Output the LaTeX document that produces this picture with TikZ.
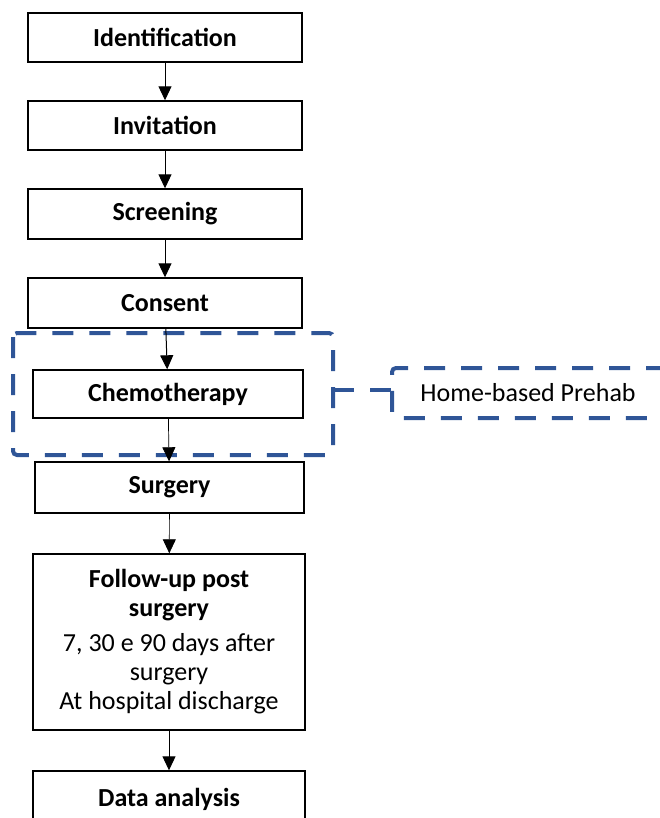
\documentclass[tikz,border=0pt]{standalone}
\usepackage{fontspec}
\setmainfont{Carlito}
\usetikzlibrary{arrows.meta,positioning}
\definecolor{dashblue}{HTML}{2F5597}
\tikzset{
  stepbox/.style={draw=black, line width=1.4pt, rectangle, inner sep=0pt, align=center,
    font=\fontsize{26}{29}\selectfont},
  flow/.style={line width=1pt, -{Triangle[length=14pt,width=13pt]}},
  grp/.style={draw=dashblue, line width=4pt, dash pattern=on 21pt off 16pt},
}
\begin{document}
\begin{tikzpicture}[x=1pt,y=-1pt]
\useasboundingbox (0,0) rectangle (659,818);
\node[stepbox, minimum width=274pt, minimum height=49pt] (ident) at (165,37.5) {\textbf{Identification}};
\node[stepbox, minimum width=274pt, minimum height=49pt] (invit) at (165,125.5) {\textbf{Invitation}};
\node[stepbox, minimum width=274pt, minimum height=50pt] (screen) at (165,214) {\textbf{Screening}};
\node[stepbox, minimum width=274pt, minimum height=50pt] (consent) at (165,303) {\textbf{Consent}};
\node[stepbox, minimum width=270pt, minimum height=48pt] (chemo) at (168,394) {\textbf{Chemotherapy}};
\node[stepbox, minimum width=269pt, minimum height=51pt] (surg) at (169.5,487.5) {\textbf{Surgery}};
\node[stepbox, minimum width=272pt, minimum height=176pt] (follow) at (169,642)
  {\textbf{Follow-up post}\\\textbf{surgery}\\[6pt]7, 30 e 90 days after\\surgery\\At hospital discharge};
\node[stepbox, minimum width=272pt, minimum height=56pt] (data) at (169,799) {\textbf{Data analysis}};
\node[font=\fontsize{26}{29}\selectfont, inner sep=0pt] (prehab) at (528,393) {Home-based Prehab};
% dashed group
\draw[grp, rounded corners=4pt] (13,333) rectangle (333,455);
\coordinate (grpE) at (333,390);
\coordinate (prehabW) at (392,390);
\draw[grp] (grpE) -- (prehabW);
\draw[grp, rounded corners=4pt] (667,368) -- (392,368) -- (392,418) -- (667,418);
% arrows
\draw[flow] (ident) -- (invit);
\draw[flow] (invit) -- (screen);
\draw[flow] (screen) -- (consent);
\draw[flow] (consent) -- (chemo);
\draw[flow, line width=0.7pt] (chemo) -- (surg);
\draw[flow, line width=0.7pt] (surg) -- (follow);
\draw[flow] (follow) -- (data);
\end{tikzpicture}
\end{document}
